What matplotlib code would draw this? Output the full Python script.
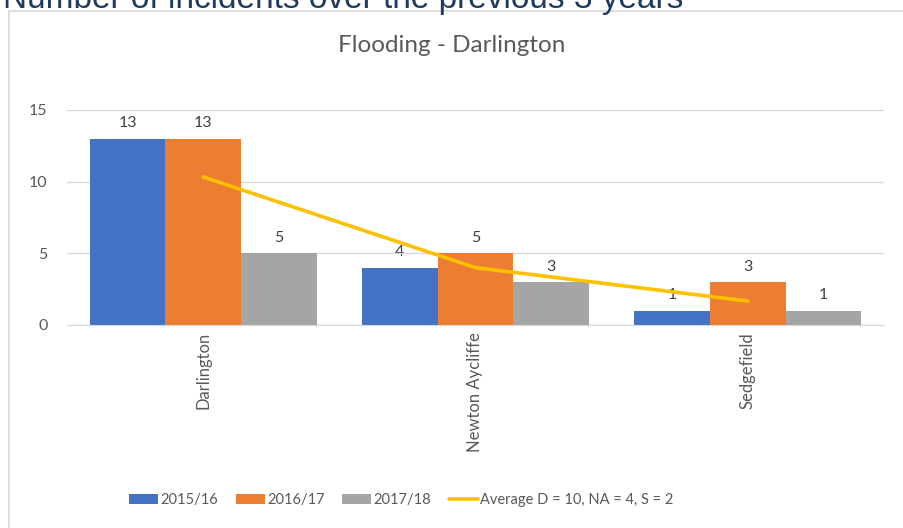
import numpy as np
import matplotlib.pyplot as plt
from matplotlib.patches import Rectangle

plt.rcParams['font.family'] = ['Lato', 'DejaVu Sans']

towns = ['Darlington', 'Newton Aycliffe', 'Sedgefield']
y2015 = [13, 4, 1]
y2016 = [13, 5, 3]
y2017 = [5, 3, 1]
average = [10.33, 4, 1.67]
series_names = ['2015/16', '2016/17', '2017/18']
avg_name = 'Average D = 10, NA = 4, S = 2'
colours = ['#4472C4', '#ED7D31', '#A5A5A5']
txt = '#595959'

fig = plt.figure(figsize=(9.04, 5.28), dpi=100)

# chart frame (runs off the right and bottom edges)
fig.patches.append(Rectangle((9/904, -0.05), 1.0, 1 - 11/528 + 0.05,
                             transform=fig.transFigure, fill=False,
                             edgecolor='#D9D9D9', lw=1.2))

# heading above the chart, clipped by the top edge as in the source
fig.text(3/904, 1 - 8/528, 'Number of incidents over the previous 3 years',
         fontsize=24, color='#1F3A5F', family='Liberation Sans', va='baseline')

ax = fig.add_axes([67/904, 1 - 325/528, (884 - 67)/904, 215/528])
x = np.arange(len(towns))
w = 0.278
for i, vals in enumerate([y2015, y2016, y2017]):
    bars = ax.bar(x + (i - 1)*w, vals, w, color=colours[i], label=series_names[i], zorder=2)
    for b, v in zip(bars, vals):
        ax.annotate(str(v), (b.get_x() + b.get_width()/2, v), xytext=(0, 6),
                    textcoords='offset points', ha='center', va='bottom',
                    fontsize=11.5, color='#404040', zorder=1)

ax.plot(x, average, color='#FFC000', lw=2.6, solid_capstyle='round',
        label=avg_name, zorder=3)

ax.set_xlim(-0.5, 2.5)
ax.set_ylim(0, 15)
ax.set_yticks([0, 5, 10, 15])
ax.grid(axis='y', color='#D9D9D9', lw=1, zorder=0)
ax.set_xticks(x)
ax.set_xticklabels(towns, rotation=90, color=txt, fontsize=12)
ax.tick_params(axis='y', length=0, labelsize=11.5, colors=txt, pad=14)
ax.tick_params(axis='x', length=0, colors=txt, pad=5)
for s in ['top', 'right', 'left']:
    ax.spines[s].set_visible(False)
ax.spines['bottom'].set_color('#D9D9D9')

fig.text(452/904, 1 - 45/528, 'Flooding - Darlington', ha='center', va='center',
         fontsize=17.5, color=txt)

h, l = ax.get_legend_handles_labels()
order = [1, 2, 3, 0]
leg = fig.legend([h[i] for i in order], [l[i] for i in order],
                 loc='center left', bbox_to_anchor=(116/904, 1 - 500/528),
                 ncol=4, frameon=False, handlelength=2.0,
                 handleheight=0.75, columnspacing=1.2, handletextpad=0.15,
                 fontsize=10.5)
for t in leg.get_texts():
    t.set_color(txt)

fig.savefig('out.png', dpi=100)
